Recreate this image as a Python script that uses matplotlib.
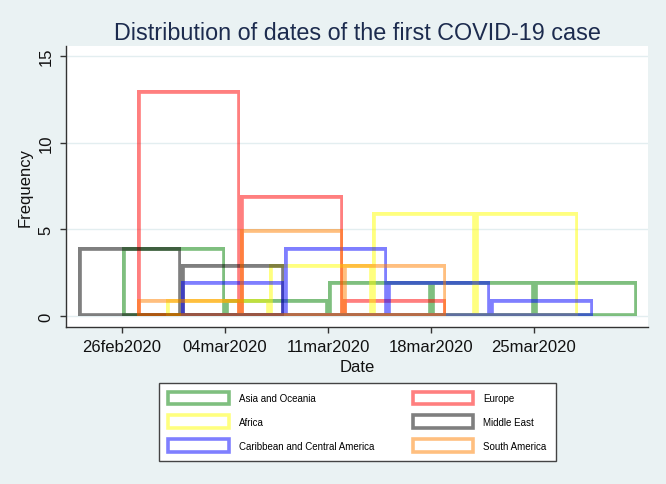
import datetime as dt
import matplotlib
matplotlib.use('Agg')
import matplotlib.pyplot as plt
from matplotlib.colors import to_rgba
from matplotlib.patches import Patch

plt.rcParams['font.family'] = ['Liberation Sans', 'DejaVu Sans']

# histogram data: first bin start, counts per 7-day bin
bin_width = 7
regions = ['Asia and Oceania', 'Europe', 'Africa', 'Middle East',
           'Caribbean and Central America', 'South America']
starts = ['2020-02-26', '2020-02-27', '2020-02-29', '2020-02-23',
          '2020-03-01', '2020-02-27']
asia_counts = [4, 1, 2, 2, 2]
europe_counts = [13, 7, 1]
africa_counts = [1, 3, 6, 6]
mideast_counts = [4, 3]
carib_counts = [2, 4, 2, 1]
samerica_counts = [1, 5, 3]
counts = [asia_counts, europe_counts, africa_counts, mideast_counts,
          carib_counts, samerica_counts]
colors = ['green', 'red', 'yellow', 'black', 'blue', '#ff8000']

tick_dates = ['2020-02-26', '2020-03-04', '2020-03-11', '2020-03-18', '2020-03-25']
yticks = [0, 5, 10, 15]

bg = '#eaf2f3'
fig = plt.figure(figsize=(6.66, 4.85), dpi=100, facecolor=bg)
ax = fig.add_axes([66/666, 1-328/485, (648-66)/666, (328-46.7)/485])
ax.set_facecolor('white')

for region, start, cnt, col in zip(regions, starts, counts, colors):
    d0 = dt.datetime.strptime(start, '%Y-%m-%d')
    lefts = [d0 + dt.timedelta(days=bin_width*i) for i in range(len(cnt))]
    bars = ax.bar(lefts, cnt, width=bin_width, align='edge', fill=False,
                  edgecolor=to_rgba(col, 0.5), linewidth=4.8)
    for p in bars:
        p.set_clip_path(p)   # stroke inside the bar, like Stata

day0 = dt.datetime(2020, 2, 26)
ax.set_xlim(day0 - dt.timedelta(days=3.81), day0 + dt.timedelta(days=35.76))
ax.set_ylim(-0.63, 15.58)

tds = [dt.datetime.strptime(t, '%Y-%m-%d') for t in tick_dates]
ax.set_xticks(tds)
ax.set_xticklabels([t.strftime('%d%b%Y').lower() for t in tds])
ax.set_yticks(yticks)
ax.set_yticklabels([str(v) for v in yticks], rotation=90, va='center')

ax.grid(axis='y', color='#e3eef0', linewidth=1)
ax.set_axisbelow(True)
for s in ['top', 'right']:
    ax.spines[s].set_visible(False)
for s in ['left', 'bottom']:
    ax.spines[s].set_color('#333333')
    ax.spines[s].set_linewidth(1)
ax.tick_params(direction='out', length=4.5, width=1, color='#333333',
               labelsize=12, labelcolor='#111111', pad=4.5)

ax.set_xlabel('Date', fontsize=12, color='#111111', labelpad=3)
ax.set_ylabel('Frequency', fontsize=12, color='#111111', labelpad=4)
fig.text(357/666, 1-40.5/485, 'Distribution of dates of the first COVID-19 case',
         ha='center', va='baseline', fontsize=16.8, color='#1c2b4e')

handles = {r: Patch(facecolor='white', edgecolor=to_rgba(c, 0.5), linewidth=2.6, label=r)
           for r, c in zip(regions, colors)}
order = ['Asia and Oceania', 'Africa', 'Caribbean and Central America',
         'Europe', 'Middle East', 'South America']
leg = fig.legend([handles[r] for r in order], order, ncol=2, loc='center',
                 bbox_to_anchor=(357.5/666, 1-422.7/485), fontsize=7,
                 handlelength=6.2, handleheight=1.6, handletextpad=1.1,
                 columnspacing=3.9, labelspacing=1.15, borderpad=0.95,
                 fancybox=False, framealpha=1, edgecolor='#444444')
leg.get_frame().set_linewidth(1)

fig.savefig('out.png', dpi=100, facecolor=bg)
